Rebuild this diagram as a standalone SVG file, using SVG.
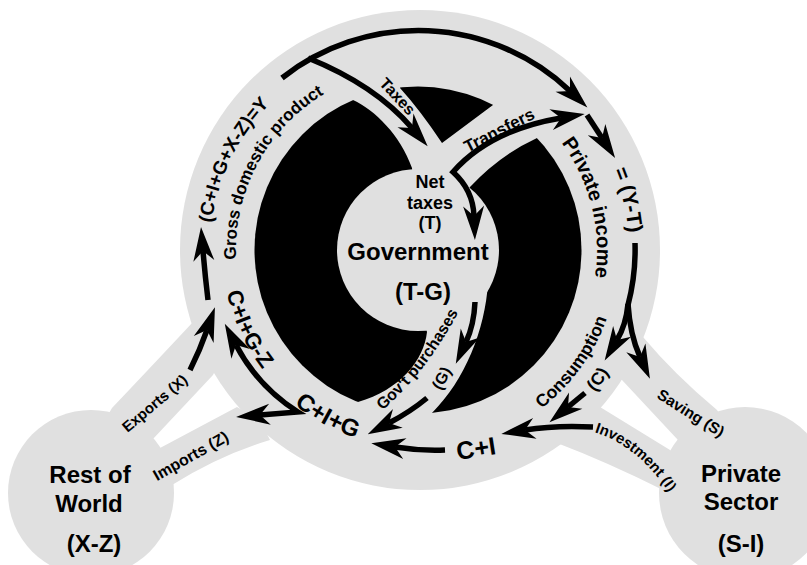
<svg xmlns="http://www.w3.org/2000/svg" width="807" height="565" viewBox="0 0 807 565">
<style>
.bg{fill:#e0e0e0}
.blk{fill:#000}
.t{font-family:"Liberation Sans",Arial,Helvetica,sans-serif;font-weight:bold;fill:#000}
.fl{fill:none;stroke:#000;stroke-width:5.5;stroke-linecap:butt;stroke-linejoin:miter}
</style>
<defs>
<marker id="ah" markerUnits="userSpaceOnUse" viewBox="-12 -12 38 24" refX="0" refY="0" markerWidth="38" markerHeight="24" orient="auto-start-reverse" overflow="visible">
<path d="M24,0 L-10,-10.5 L0,0 L-10,10.5 Z" fill="#000"/>
</marker>
<path id="p-gdp1" d="M228,334.6 A208,208 0 0 1 367.7,48.2"/>
<path id="p-gdp2" d="M263.7,346.5 A182,182 0 0 1 411.6,68.1"/>
<path id="p-pi" d="M496.5,89.1 A179,179 0 0 1 562.8,355.2"/>
<path id="p-yt" d="M512.5,61.3 A211,211 0 0 1 587.4,375.8"/>
<path id="p-cons" d="M432,450.5 A201,201 0 0 0 613,201.4"/>
<path id="p-c" d="M435,476.4 A227,227 0 0 0 638,193.9"/>
<path id="p-cigz" d="M240.4,167.2 A196,196 0 0 0 367.3,439.3"/>
<path id="p-cig" d="M224,289.5 A198,198 0 0 0 490.6,434.2"/>
<path id="p-gp" d="M371.8,420 L383,410 Q427.5,370.5 458,313 L465,299.7"/>
<path id="p-inv" d="M584.5,429 L594,432 Q637.5,445.5 669,493 L674.5,501.3"/>
</defs>

<g id="background">
<circle class="bg" cx="420" cy="250" r="240"/>
<path class="bg" d="M105,420 L112,408 Q150,368 193,322 L230,340 L213,375 L152,440 L120,460 Z"/>
<path class="bg" d="M140,470 L160,448 L237,407 L260,420 L270,440 Q220,455 172,485 L150,490 Z"/>
<path class="bg" d="M620,330 L643,337 Q675,375 717,410 L730,430 L678,440 L622,380 L610,370 Z"/>
<path class="bg" d="M590,400 L600,407 L670,450 L690,470 L663,490 Q607,462 557,443 L550,430 Z"/>
</g>

<g id="rest-of-world">
<circle class="bg" cx="91" cy="493" r="83"/>
<text class="t" x="90" y="483" font-size="24" text-anchor="middle">Rest of</text>
<text class="t" x="89" y="512" font-size="24" text-anchor="middle">World</text>
<text class="t" x="94" y="552" font-size="24" text-anchor="middle">(X-Z)</text>
</g>

<g id="private-sector">
<circle class="bg" cx="745" cy="493" r="86"/>
<text class="t" x="741" y="482" font-size="24" text-anchor="middle">Private</text>
<text class="t" x="741" y="510" font-size="24" text-anchor="middle">Sector</text>
<text class="t" x="741" y="552" font-size="24" text-anchor="middle">(S-I)</text>
</g>

<g id="government">
<circle class="blk" cx="418" cy="250" r="163.5"/>
<circle class="bg" cx="418" cy="250" r="81"/>
<path class="bg" d="M340,80 L353,100 C375,110 400,135 412,168 L418,250 L470,187 Q500,155 537,138 L560,120 L500,90 L493,105 L442,143 Q420,110 400,88 L400,70 Z"/>
<path class="bg" d="M418,300 L427,332 C424,360 400,390 358,402 L350,425 L440,430 L432,413 C465,380 485,330 488,283 Z"/>
<text class="t" x="430" y="188" font-size="18" text-anchor="middle">Net</text>
<text class="t" x="430" y="209" font-size="18" text-anchor="middle">taxes</text>
<text class="t" x="430" y="229" font-size="18" text-anchor="middle">(T)</text>
<text class="t" x="418" y="260" font-size="24" text-anchor="middle">Government</text>
<text class="t" x="423" y="300" font-size="24" text-anchor="middle">(T-G)</text>
</g>

<g id="connectors">
<path class="fl" d="M282,78 A220,220 0 0 1 570,91" marker-end="url(#ah)"/>
<path class="fl" d="M308,58 Q375,85 412,128" marker-end="url(#ah)"/>
<path class="fl" d="M561,118 Q490,130 453,172 Q473,190 474,216" marker-start="url(#ah)" marker-end="url(#ah)"/>
<path class="fl" d="M587,115 L602,138" marker-end="url(#ah)"/>
<path class="fl" d="M635,243 A217,217 0 0 1 628,305"/>
<path class="fl" d="M628,304 Q626,325 617,340" marker-end="url(#ah)"/>
<path class="fl" d="M628,304 Q630,335 640,357" marker-end="url(#ah)"/>
<path class="fl" d="M585,393 L568,407" marker-end="url(#ah)"/>
<path class="fl" d="M593,427 Q555,425 525,430" marker-end="url(#ah)"/>
<path class="fl" d="M445,450 Q420,451 395,447" marker-end="url(#ah)"/>
<path class="fl" d="M475,302 Q474,325 466,342" marker-end="url(#ah)"/>
<path class="fl" d="M427,398 Q410,412 389,423" marker-end="url(#ah)"/>
<path class="fl" d="M208,300 Q205,275 203,251" marker-end="url(#ah)"/>
<path class="fl" d="M190,370 Q200,350 207,330" marker-end="url(#ah)"/>
<path class="fl" d="M236,345 Q258,386.6 298,412 L260,415" marker-start="url(#ah)" marker-end="url(#ah)"/>
</g>

<g id="labels">
<text class="t" font-size="19"><textPath href="#p-gdp1" startOffset="50%" text-anchor="middle">(C+I+G+X-Z)=Y</textPath></text>
<text class="t" font-size="17"><textPath href="#p-gdp2" startOffset="50%" text-anchor="middle">Gross domestic product</textPath></text>
<text class="t" font-size="20"><textPath href="#p-pi" startOffset="50%" text-anchor="middle">Private income</textPath></text>
<text class="t" font-size="21"><textPath href="#p-yt" startOffset="50%" text-anchor="middle">= (Y-T)</textPath></text>
<text class="t" font-size="17.5"><textPath href="#p-cons" startOffset="50%" text-anchor="middle">Consumption</textPath></text>
<text class="t" font-size="17.5"><textPath href="#p-c" startOffset="50%" text-anchor="middle">(C)</textPath></text>
<text class="t" font-size="22"><textPath href="#p-cigz" startOffset="50%" text-anchor="middle">C+I+G-Z</textPath></text>
<text class="t" font-size="24"><textPath href="#p-cig" startOffset="50%" text-anchor="middle">C+I+G</textPath></text>
<text class="t" font-size="16"><textPath href="#p-gp" startOffset="50%" text-anchor="middle">Gov't purchases</textPath></text>
<text class="t" font-size="15"><textPath href="#p-inv" startOffset="50%" text-anchor="middle">Investment (I)</textPath></text>
<text class="t" font-size="25" text-anchor="middle" transform="translate(476,448) rotate(-9)" y="9">C+I</text>
<text class="t" font-size="16" text-anchor="middle" transform="translate(441,378) rotate(-62)" y="6">(G)</text>
<text class="t" font-size="16" text-anchor="middle" transform="translate(398,96) rotate(47)" y="6">Taxes</text>
<text class="t" font-size="17" text-anchor="middle" transform="translate(499,130) rotate(-27)" y="6">Transfers</text>
<text class="t" font-size="15" text-anchor="middle" transform="translate(154.5,403) rotate(-40)" y="5.5">Exports (X)</text>
<text class="t" font-size="16" text-anchor="middle" transform="translate(190.5,455.5) rotate(-29.5)" y="6">Imports (Z)</text>
<text class="t" font-size="15.5" text-anchor="middle" transform="translate(691,413) rotate(32)" y="5.5">Saving (S)</text>
</g>
</svg>
